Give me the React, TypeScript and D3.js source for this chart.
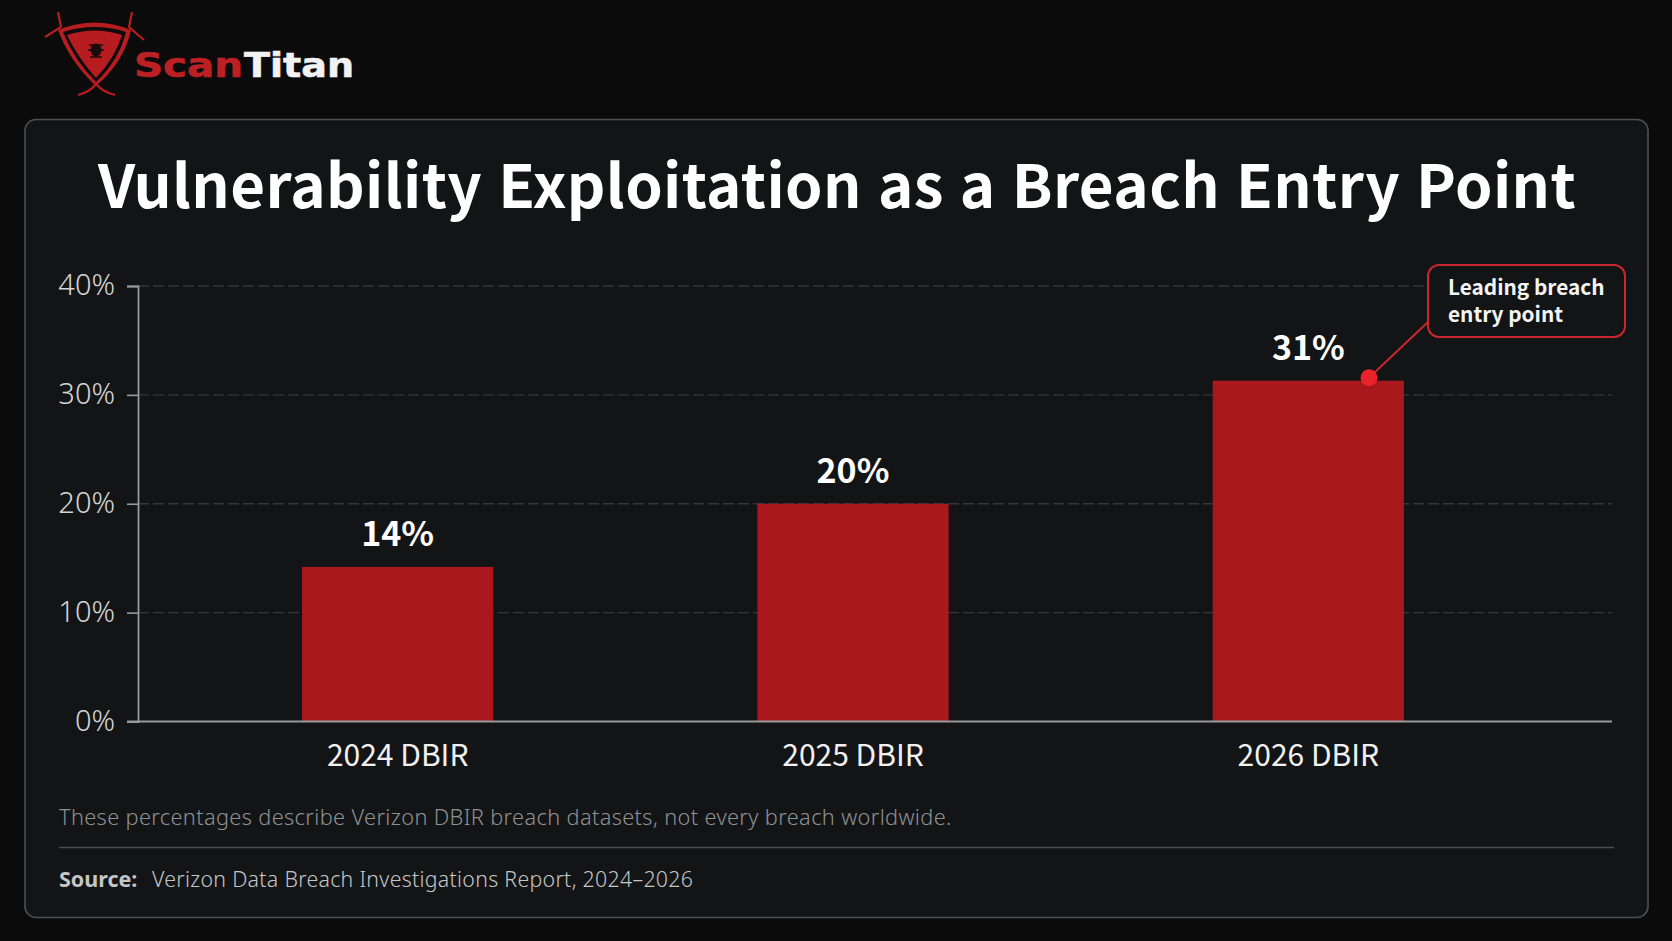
import React, { useEffect, useRef } from 'react';
import * as d3 from 'd3';

const categories = ['2024 DBIR', '2025 DBIR', '2026 DBIR'];
const barValues = [14.2, 20, 31.3];
const barLabels = ['14%', '20%', '31%'];
const yTicks = [0, 10, 20, 30, 40];

const W = 1672;
const H = 941;
const CJK = '"Noto Sans CJK SC", "Noto Sans", sans-serif';
const SANS = '"Noto Sans", sans-serif';

export default function App() {
  const svgRef = useRef<SVGSVGElement>(null);

  useEffect(() => {
    if (!svgRef.current) return;
    const svg = d3.select(svgRef.current);
    svg.selectAll('*').remove();

    svg.append('rect').attr('width', W).attr('height', H).attr('fill', '#0b0b0c');

    // card
    svg.append('rect')
      .attr('x', 25).attr('y', 119.5)
      .attr('width', 1623).attr('height', 798)
      .attr('rx', 11)
      .attr('fill', '#131416')
      .attr('stroke', '#4d4f51')
      .attr('stroke-width', 1.6);

    // logo
    const logo = svg.append('g');
    const logoRed = '#b71c20';
    logo.append('path')
      .attr('d', 'M58 12 L61 27 L45 37 M132 12 L129 27 L144 40 M78 95 Q90 92 96 84 Q103 92 115 95')
      .attr('fill', 'none').attr('stroke', logoRed).attr('stroke-width', 2.2);
    logo.append('path')
      .attr('d', 'M58 30 Q95 15 131 30 Q124 62 96 86 Q70 62 58 30 Z')
      .attr('fill', logoRed);
    logo.append('path')
      .attr('d', 'M63 32 Q95 22 126 32 Q119 60 96 82 Q74 60 63 32 Z')
      .attr('fill', '#0d0b0b');
    logo.append('path')
      .attr('d', 'M67 35 Q95 26 122 35 Q115 58 96 78 Q78 58 67 35 Z')
      .attr('fill', logoRed);
    logo.append('ellipse').attr('cx', 96).attr('cy', 50).attr('rx', 5.5).attr('ry', 6.5).attr('fill', '#1a0c0c');
    logo.append('path')
      .attr('d', 'M89 45 L103 45 M88 50 L104 50 M90 57 L102 57')
      .attr('stroke', '#1a0c0c').attr('stroke-width', 1.5);
    logo.append('text')
      .attr('x', 134).attr('y', 77)
      .attr('textLength', 109).attr('lengthAdjust', 'spacingAndGlyphs')
      .attr('font-family', '"DejaVu Sans", sans-serif').attr('font-weight', 700).attr('font-size', 34)
      .attr('fill', '#bd2024').attr('stroke', '#bd2024').attr('stroke-width', 0.6).text('Scan');
    logo.append('text')
      .attr('x', 244).attr('y', 77)
      .attr('textLength', 110).attr('lengthAdjust', 'spacingAndGlyphs')
      .attr('font-family', '"DejaVu Sans", sans-serif').attr('font-weight', 700).attr('font-size', 34)
      .attr('fill', '#f2f2f2').attr('stroke', '#f2f2f2').attr('stroke-width', 0.6).text('Titan');

    // title
    svg.append('text')
      .attr('x', 837).attr('y', 208)
      .attr('text-anchor', 'middle')
      .attr('font-family', CJK).attr('font-weight', 700).attr('font-size', 60)
      .attr('letter-spacing', 0.4)
      .attr('word-spacing', 2)
      .attr('fill', '#ffffff')
      .text('Vulnerability Exploitation as a Breach Entry Point');

    const x = d3.scaleBand<string>()
      .domain(categories)
      .range([170, 1536])
      .paddingInner(0.58)
      .paddingOuter(0.29);
    const y = d3.scaleLinear().domain([0, 40]).range([721.5, 286]);

    // gridlines
    svg.append('g')
      .selectAll('line')
      .data(yTicks.filter(d => d > 0))
      .join('line')
      .attr('x1', 138).attr('x2', 1612)
      .attr('y1', d => y(d)).attr('y2', d => y(d))
      .attr('stroke', '#353638')
      .attr('stroke-width', 1.3)
      .attr('stroke-dasharray', '11 4');

    // bars
    svg.append('g')
      .selectAll('rect')
      .data(categories)
      .join('rect')
      .attr('x', d => x(d)!)
      .attr('width', x.bandwidth())
      .attr('y', (_, i) => y(barValues[i]))
      .attr('height', (_, i) => y(0) - y(barValues[i]))
      .attr('fill', '#a8181c');

    // value labels
    svg.append('g')
      .selectAll('text')
      .data(categories)
      .join('text')
      .attr('x', d => x(d)! + x.bandwidth() / 2)
      .attr('y', (_, i) => y(barValues[i]) - 21)
      .attr('text-anchor', 'middle')
      .attr('font-family', CJK).attr('font-weight', 700).attr('font-size', 34)
      .attr('fill', '#ffffff')
      .text((_, i) => barLabels[i]);

    // y axis
    const yAxis = svg.append('g')
      .attr('transform', 'translate(138,0)')
      .call(d3.axisLeft(y).tickValues(yTicks).tickFormat(d => `${d}%`).tickSize(11).tickPadding(12));
    yAxis.select('.domain').attr('stroke', '#97999b').attr('stroke-width', 1.8);
    yAxis.selectAll('.tick line').attr('stroke', '#97999b').attr('stroke-width', 1.6);
    yAxis.selectAll('.tick text')
      .attr('font-family', SANS).attr('font-weight', 300).attr('font-size', 29).attr('fill', '#d3d5d7').attr('dy', '0.3em');

    // x axis
    const xAxis = svg.append('g')
      .attr('transform', 'translate(0,721.5)')
      .call(d3.axisBottom(x).tickSize(0).tickPadding(23));
    xAxis.select('.domain').remove();
    xAxis.append('line')
      .attr('x1', 127).attr('x2', 1612)
      .attr('stroke', '#97999b').attr('stroke-width', 2);
    xAxis.selectAll('.tick text')
      .attr('font-family', CJK).attr('font-size', 30).attr('fill', '#f1f1f1');

    // callout
    const top = barValues[2];
    svg.append('line')
      .attr('x1', 1369).attr('y1', y(top) - 3)
      .attr('x2', 1428).attr('y2', 322)
      .attr('stroke', '#c8282d').attr('stroke-width', 2);
    svg.append('circle')
      .attr('cx', 1369).attr('cy', y(top) - 3).attr('r', 8.5)
      .attr('fill', '#e8232a');
    svg.append('rect')
      .attr('x', 1428).attr('y', 265)
      .attr('width', 197).attr('height', 72)
      .attr('rx', 11)
      .attr('fill', '#131416')
      .attr('stroke', '#c8282d').attr('stroke-width', 2);
    const calloutLines: [string, number][] = [['Leading breach', 295], ['entry point', 322]];
    calloutLines.forEach(([t, by]) => {
      svg.append('text')
        .attr('x', 1448).attr('y', by)
        .attr('font-family', CJK).attr('font-weight', 700).attr('font-size', 20.8)
        .attr('fill', '#f4f4f4')
        .text(t);
    });

    // footer
    svg.append('text')
      .attr('x', 59).attr('y', 825)
      .attr('font-family', SANS).attr('font-weight', 300).attr('font-size', 21.75)
      .attr('letter-spacing', 0.36)
      .attr('fill', '#8f9193')
      .text('These percentages describe Verizon DBIR breach datasets, not every breach worldwide.');
    svg.append('line')
      .attr('x1', 59).attr('x2', 1614).attr('y1', 847.5).attr('y2', 847.5)
      .attr('stroke', '#4a4b4d').attr('stroke-width', 1.4);
    svg.append('text')
      .attr('x', 59).attr('y', 887)
      .attr('font-family', SANS).attr('font-weight', 700).attr('font-size', 21.5)
      .attr('fill', '#c4c6c8')
      .text('Source:');
    svg.append('text')
      .attr('x', 152).attr('y', 887)
      .attr('font-family', SANS).attr('font-weight', 300).attr('font-size', 21.3)
      .attr('letter-spacing', 0.3)
      .attr('fill', '#c4c6c8')
      .text('Verizon Data Breach Investigations Report, 2024–2026');
  }, []);

  return (
    <svg
      ref={svgRef}
      width={W}
      height={H}
      style={{ position: 'absolute', left: 0, top: 0, display: 'block' }}
    />
  );
}
